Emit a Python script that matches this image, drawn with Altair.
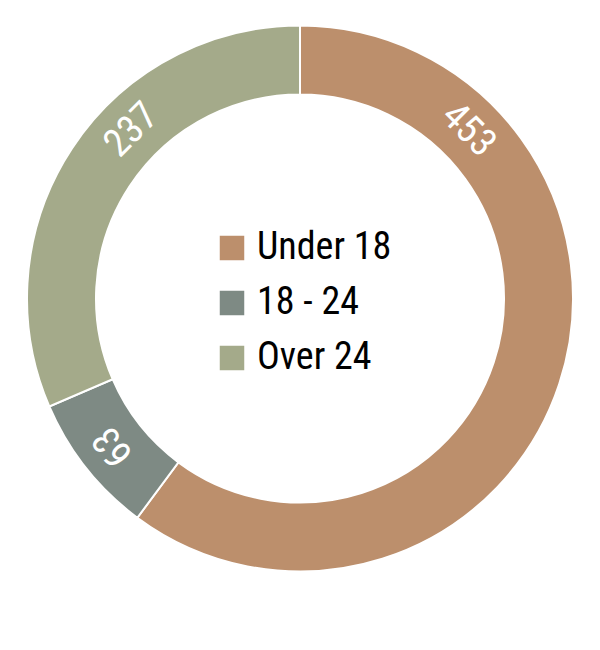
import altair as alt
import pandas as pd

categories = ["Under 18", "18 - 24", "Over 24"]
values = [453, 63, 237]
colors = ["#bc8f6c", "#7e8a84", "#a4aa8a"]

df = pd.DataFrame({"category": categories, "value": values, "order": list(range(len(categories)))})

FONT = "Roboto Condensed, Open Sans Condensed, Liberation Sans Narrow, DejaVu Sans Condensed, sans-serif"

base = alt.Chart(df).transform_window(
    cum="sum(value)", sort=[{"field": "order"}], frame=[None, 0]
).transform_joinaggregate(
    total="sum(value)"
).transform_calculate(
    s="(datum.cum - datum.value) / datum.total",
    e="datum.cum / datum.total",
).transform_calculate(
    a1="min(datum.e, 0.25)",
    b0="max(datum.s, 0.75)",
).transform_calculate(
    la="max(0, datum.a1 - datum.s)",
    lb="max(0, datum.e - datum.b0)",
).transform_calculate(
    frac="datum.la > datum.lb ? (datum.s + datum.a1) / 2 : (datum.lb > 0 ? (datum.b0 + datum.e) / 2 : (datum.s + datum.e) / 2)"
).transform_calculate(
    lab="datum.frac * datum.total",
    deg="datum.frac * 360",
)

color = alt.Color(
    "category:N",
    scale=alt.Scale(domain=categories, range=colors),
    sort=categories,
    legend=alt.Legend(
        title=None,
        orient="none",
        legendX=205,
        legendY=221,
        direction="vertical",
        symbolType="square",
        symbolSize=600,
        symbolStrokeWidth=0,
        symbolOpacity=1,
        labelFont=FONT,
        labelFontSize=38,
        labelColor="#000000",
        labelOffset=6,
        rowPadding=17,
        padding=0,
        labelLimit=400,
    ),
)

arcs = base.mark_arc(outerRadius=273, innerRadius=204, stroke="white", strokeWidth=2).encode(
    theta=alt.Theta("value:Q", stack=True),
    color=color,
    order=alt.Order("order:Q"),
)

labels = base.mark_text(
    radius=238.5, font=FONT, fontSize=39, color="white", align="center", baseline="middle"
).encode(
    theta=alt.Theta("lab:Q", stack=None),
    angle=alt.Angle("deg:Q", scale=None),
    text=alt.Text("value:Q"),
)

chart = alt.layer(arcs, labels).properties(
    width=584, height=581, padding=0, autosize=alt.AutoSizeParams(type="none")
).configure_view(stroke=None)

chart.save("out.html", embed_options={"renderer": "svg", "actions": False})
